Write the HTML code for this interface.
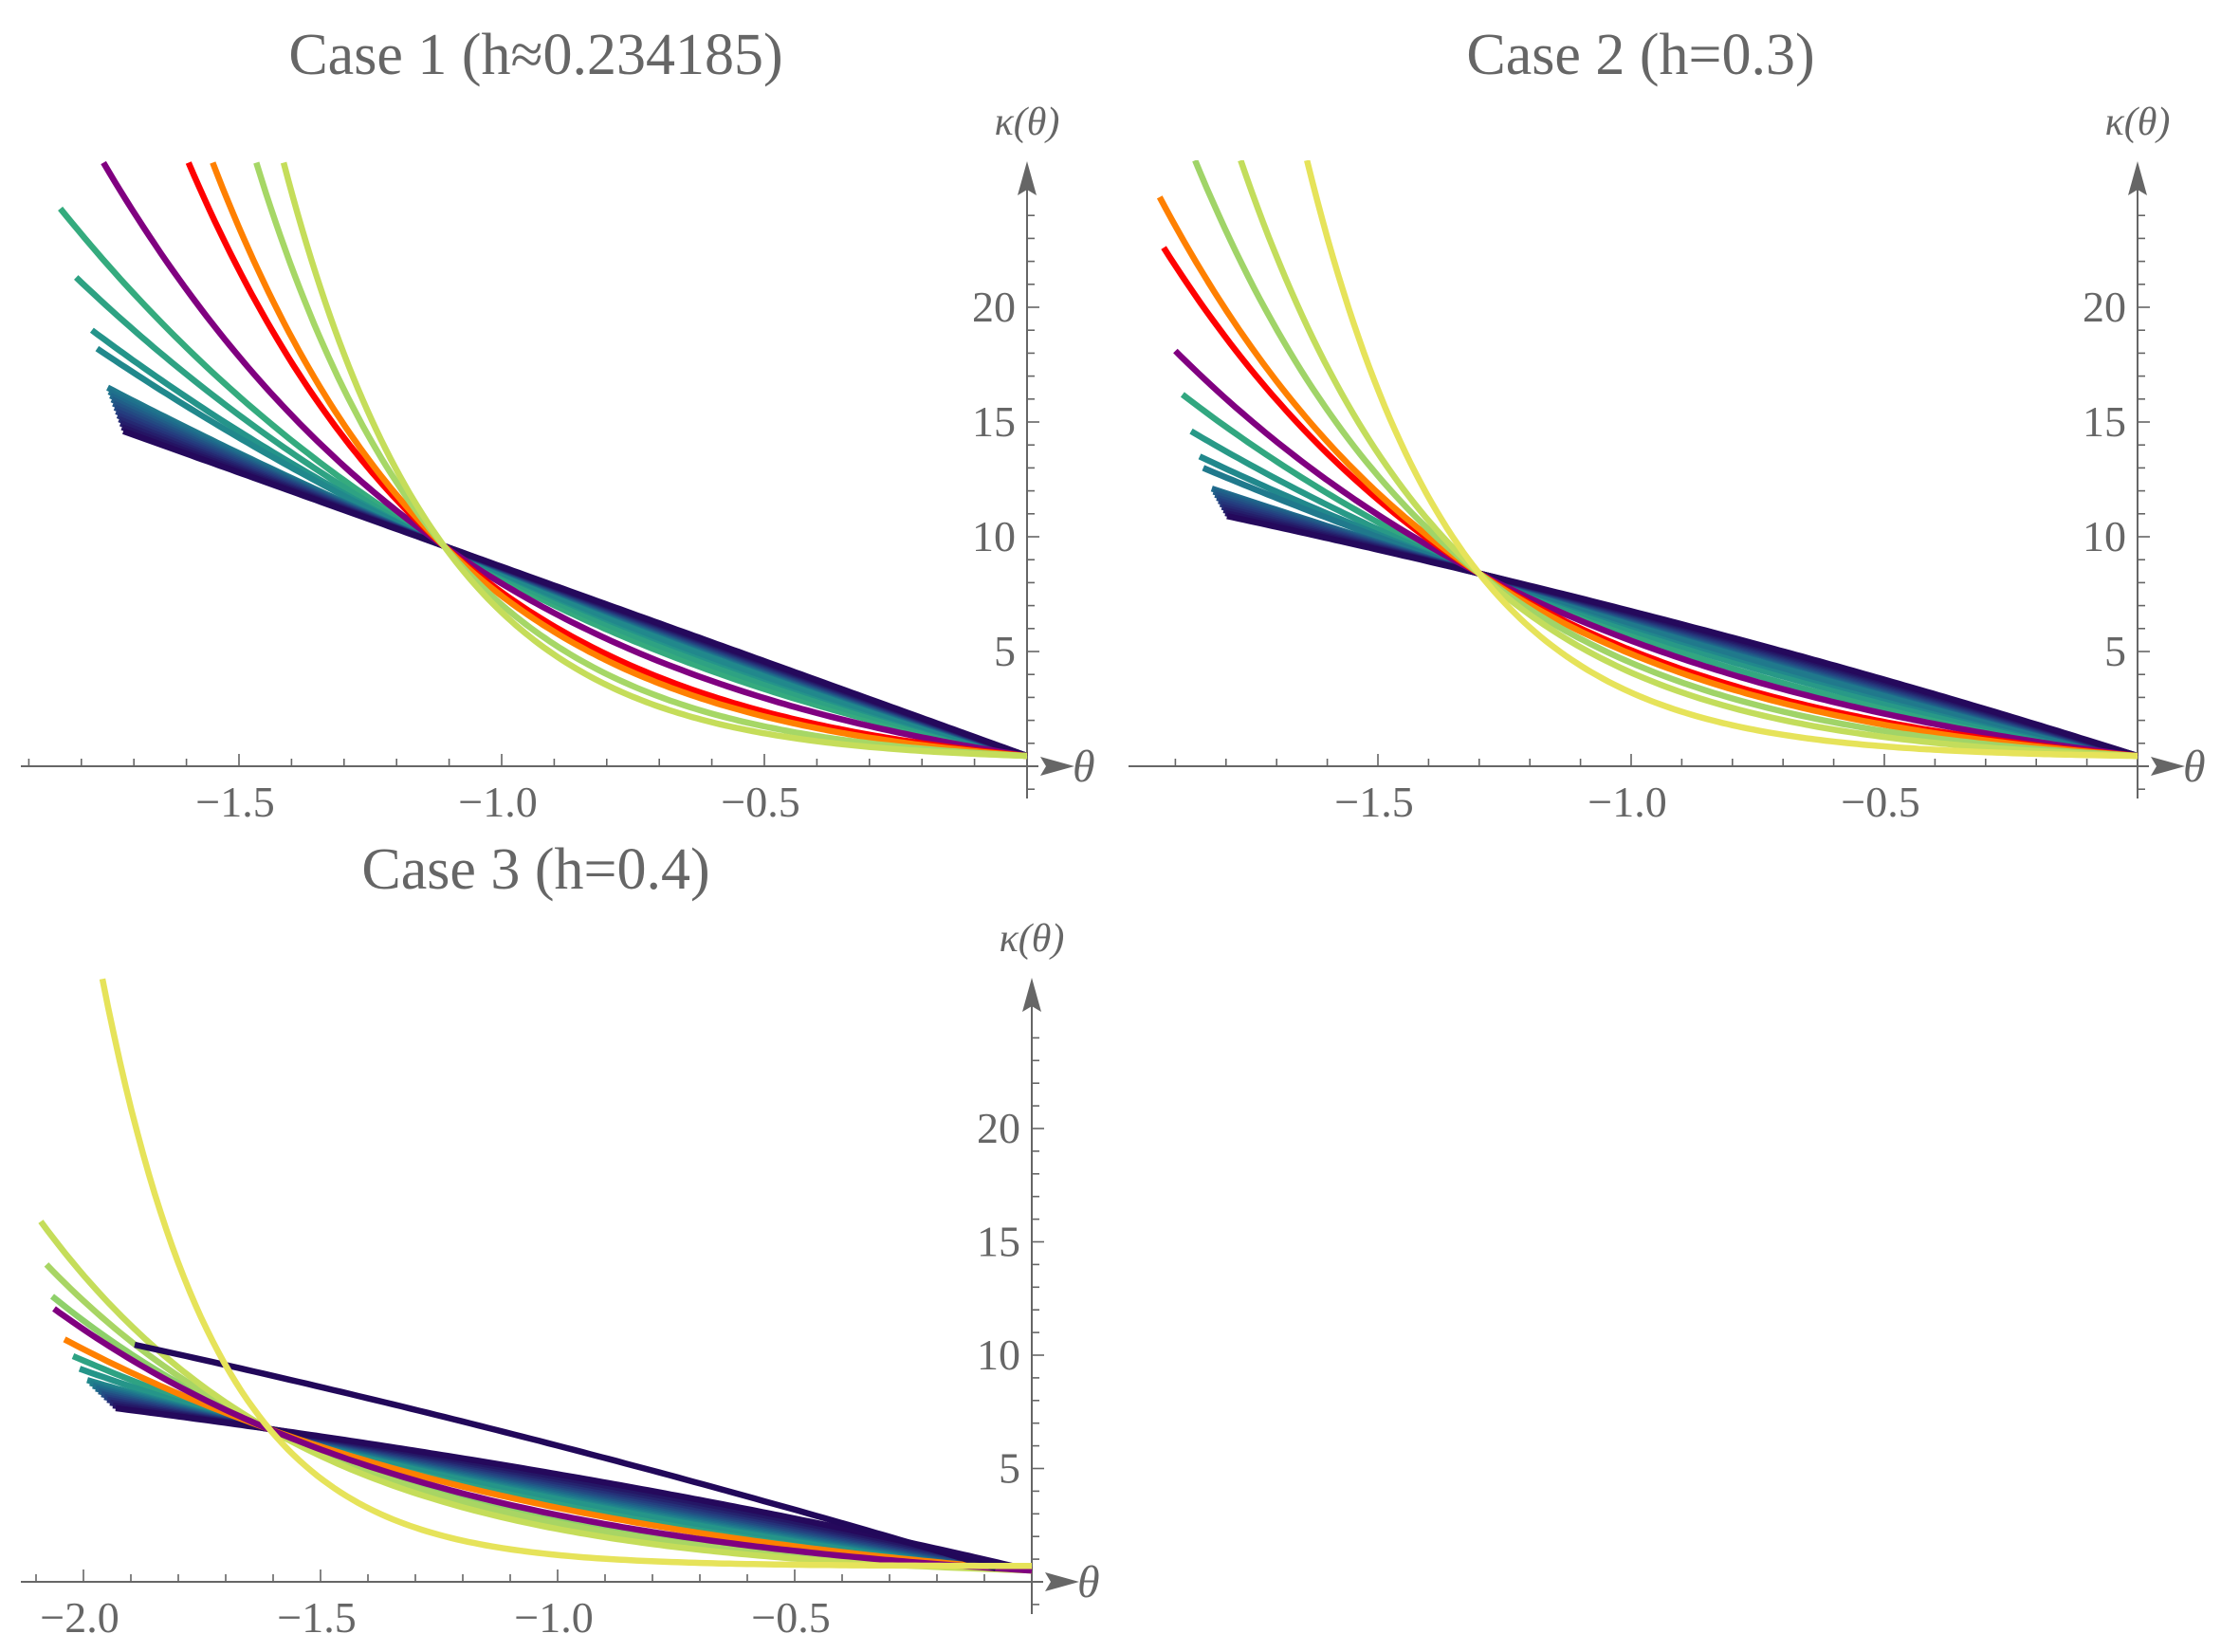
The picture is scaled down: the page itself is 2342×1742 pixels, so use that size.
<!DOCTYPE html>
<html><head><meta charset="utf-8">
<style>
html,body{margin:0;padding:0;background:#fff;}
svg{display:block;}
text{font-family:"Liberation Serif","DejaVu Serif",serif;fill:#666;}
</style></head>
<body>
<svg id="s" width="2342" height="1742" viewBox="0 0 2342 1742" xmlns="http://www.w3.org/2000/svg">
<defs>
<clipPath id="c1"><rect x="0" y="169" width="1100" height="700"/></clipPath>
<clipPath id="c2"><rect x="1170" y="169" width="1100" height="700"/></clipPath>
<clipPath id="c3"><rect x="0" y="1030" width="1100" height="700"/></clipPath>
</defs>
<text x="565" y="78" font-size="62" text-anchor="middle">Case 1 (h≈0.234185)</text>
<text x="1730" y="78" font-size="62" text-anchor="middle">Case 2 (h=0.3)</text>
<text x="565" y="937" font-size="62" text-anchor="middle">Case 3 (h=0.4)</text>
<g id="g"></g>
</svg>
<script>
var NS="http://www.w3.org/2000/svg";
var G=document.getElementById("g");
function el(t,a,p){var e=document.createElementNS(NS,t);for(var k in a)e.setAttribute(k,a[k]);(p||G).appendChild(e);return e;}
function hex(h){return [parseInt(h.substr(1,2),16),parseInt(h.substr(3,2),16),parseInt(h.substr(5,2),16)];}
var stops=[[0,"#25095c"],[0.15,"#253a7e"],[0.3,"#1f6a8c"],[0.45,"#21908c"],[0.6,"#35ab7e"],[0.75,"#7ccb6b"],[0.87,"#b5da5c"],[1,"#e6e35a"]];
function cmap(t){for(var i=0;i<stops.length-1;i++){if(t<=stops[i+1][0]){var a=hex(stops[i][1]),b=hex(stops[i+1][1]);var f=(t-stops[i][0])/(stops[i+1][0]-stops[i][0]);return "rgb("+[0,1,2].map(function(j){return Math.round(a[j]+(b[j]-a[j])*f);}).join(",")+")";}}return stops[stops.length-1][1];}
function ratio(b,ts,tp){if(Math.abs(b)<1e-6)return ts/tp;return (Math.exp(-b*ts)-1)/(Math.exp(-b*tp)-1);}
function curve(P,ts,ks,tp,kp,c,col,w){
  var R=(ks-c)/(kp-c),lo=-8,hi=20;
  for(var i=0;i<80;i++){var m=(lo+hi)/2;if(ratio(m,ts,tp)<R)lo=m;else hi=m;}
  var b=(lo+hi)/2,A;
  var f;
  if(Math.abs(b)<1e-6){var s=(kp-c)/(-tp);f=function(t){return c-s*t;};}
  else{A=(kp-c)/(Math.exp(-b*tp)-1);f=function(t){return c+A*(Math.exp(-b*t)-1);};}
  var pts=[];var N=160;
  for(var i=0;i<=N;i++){var t=ts+(P.tend-ts)*i/N;pts.push((P.x0+t*P.sx).toFixed(1)+","+(P.y0-f(t)*P.sy).toFixed(1));}
  el("polyline",{points:pts.join(" "),fill:"none",stroke:col,"stroke-width":w||6.5,"clip-path":"url(#"+P.clip+")"});
}
function axes(P){
  var a={stroke:"#666","stroke-width":2};
  el("line",Object.assign({x1:P.xl,y1:P.y0,x2:P.x0+12,y2:P.y0},a));
  el("polygon",{points:(P.x0+14)+","+(P.y0-10)+" "+(P.x0+50)+","+P.y0+" "+(P.x0+14)+","+(P.y0+10)+" "+(P.x0+20)+","+P.y0,fill:"#666"});
  el("line",Object.assign({x1:P.x0,y1:P.top+18,x2:P.x0,y2:P.y0+34},a));
  el("polygon",{points:(P.x0-10)+","+(P.top+36)+" "+P.x0+","+P.top+" "+(P.x0+10)+","+(P.top+36)+" "+P.x0+","+(P.top+30),fill:"#666"});
  for(var i=1;i<=25;i++){var t=-i/10;var x=P.x0+t*P.sx;if(x<P.xl+4)break;var maj=(i%5==0);
    el("line",Object.assign({x1:x,y1:P.y0,x2:x,y2:P.y0-(maj?13:8)},{stroke:"#666","stroke-width":1.6}));
    if(maj)el("text",{x:x-4,y:P.y0+53,"font-size":46,"text-anchor":"middle"}).textContent="\u2212"+(i/10).toFixed(1);}
  for(var k=-1;k<=24;k++){if(k==0)continue;var y=P.y0-k*P.sy;var maj=(k%5==0);
    el("line",{x1:P.x0,y1:y,x2:P.x0+(maj?13:8),y2:y,stroke:"#666","stroke-width":1.6});
    if(maj&&k>0)el("text",{x:P.x0-12,y:y+15,"font-size":46,"text-anchor":"end"}).textContent=""+k;}
  el("text",{x:P.x0+48,y:P.y0+16,"font-size":48,"font-style":"italic"}).textContent="\u03b8";
  el("text",{x:P.x0,y:P.top-28,"font-size":42,"font-style":"italic","text-anchor":"middle"}).textContent="\u03ba(\u03b8)";
}
var P1={x0:1083,y0:808,sx:554,sy:24.2,xl:22,top:170,clip:"c1",tend:0};
var P2={x0:2254,y0:808,sx:534,sy:24.2,xl:1190,top:170,clip:"c2",tend:0};
var P3={x0:1088,y0:1668,sx:500,sy:23.9,xl:22,top:1031,clip:"c3",tend:0};
[P1,P2,P3].forEach(axes);

(function(){var P=P1,tp=-1.11,kp=9.6,c=0.45;
 var L=[[-1.84,24.3,0.6],[-1.81,21.3,0.55],[-1.78,19.0,0.47],[-1.77,18.2,0.42]];
 L.forEach(function(a){curve(P,a[0],a[1],tp,kp,c,cmap(a[2]));});
 for(var i=11;i>=0;i--){var f=i/11;curve(P,-1.72-0.03*f,14.6+1.9*f,tp,kp,c,cmap(0.36*f));}
 curve(P,-1.758,26.3,tp,kp,c,"#800080");
 curve(P,-1.596,26.3,tp,kp,c,"#ff0000");
 curve(P,-1.55,26.3,tp,kp,c,"#ff8000");
 curve(P,-1.467,26.3,tp,kp,c,"#a6d766");
 curve(P,-1.415,26.3,tp,kp,c,"#c5dd5a");
})();
(function(){var P=P2,tp=-1.30,kp=8.4,c=0.45;
 var L=[[-1.886,16.2,0.58],[-1.869,14.6,0.5],[-1.852,13.5,0.42],[-1.845,13.0,0.36]];
 L.forEach(function(a){curve(P,a[0],a[1],tp,kp,c,cmap(a[2]));});
 for(var i=9;i>=0;i--){var f=i/9;curve(P,-1.798-0.03*f,10.9+1.2*f,tp,kp,c,cmap(0.3*f));}
 curve(P,-1.90,18.1,tp,kp,c,"#800080");
 curve(P,-1.923,22.6,tp,kp,c,"#ff0000");
 curve(P,-1.931,24.8,tp,kp,c,"#ff8000");
 curve(P,-1.861,26.4,tp,kp,c,"#a0d468");
 curve(P,-1.771,26.4,tp,kp,c,"#c3dd5c");
 curve(P,-1.64,26.4,tp,kp,c,"#e6e35a");
})();
(function(){var P=P3,tp=-1.61,kp=6.75,c=0.5;
 var L=[[-2.022,9.96,0.55],[-2.008,9.4,0.48]];
 L.forEach(function(a){curve(P,a[0],a[1],tp,kp,c,cmap(a[2]));});
 for(var i=10;i>=0;i--){var f=i/10;curve(P,-1.932-0.06*f,7.66+1.24*f,tp,kp,c,cmap(0.42*f));}
 curve(P,-2.066,12.6,tp,kp,c,"#8ed06a");
 curve(P,-2.078,14.0,tp,kp,c,"#a8d564");
 curve(P,-2.09,15.9,tp,kp,c,"#c5dd5a");
 curve(P,-2.04,10.7,tp,kp,c,"#ff8000");
 curve(P,-2.062,12.05,tp,kp,c,"#800080");
 var p=[[-1.892,10.46],[-0.98,5.9],[-0.076,0.6]];
 function lag(t){var s=0;for(var i=0;i<3;i++){var l=1;for(var j=0;j<3;j++)if(j!=i)l*=(t-p[j][0])/(p[i][0]-p[j][0]);s+=l*p[i][1];}return s;}
 var pts=[];for(var i=0;i<=100;i++){var t=p[0][0]+(p[2][0]-p[0][0])*i/100;pts.push((P.x0+t*P.sx).toFixed(1)+","+(P.y0-lag(t)*P.sy).toFixed(1));}
 el("polyline",{points:pts.join(" "),fill:"none",stroke:"#22085a","stroke-width":6.5});
 curve(P,-1.96,26.6,-1.602,6.6,0.7,"#e6e35a");
})();
</script>
</body></html>
